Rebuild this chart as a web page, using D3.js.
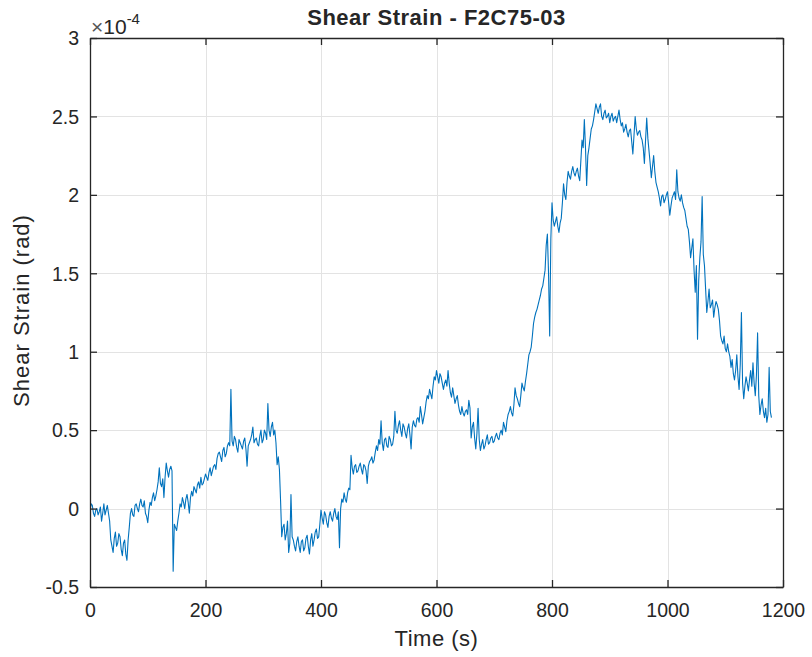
<!DOCTYPE html>
<html>
<head>
<meta charset="utf-8">
<script src="https://cdn.jsdelivr.net/npm/d3@7"></script>
<style>
  html, body { margin: 0; padding: 0; background: #fff; }
  svg { display: block; }
  text { font-family: "Liberation Sans", Arial, Helvetica, sans-serif; fill: #262626; }
</style>
</head>
<body>
<svg id="chart" width="812" height="657"></svg>
<script>
// ---- data (strain in units of 1e-4 rad) ----
const titleText = "Shear Strain - F2C75-03";
const xLabelText = "Time (s)";
const yLabelText = "Shear Strain (rad)";
const sampleStep = 4; // seconds between main samples (t = 0, 4, 8, ...)
// readings at t = 0, 4, 8, ... s
const strainE4 = [
  -0.01, 0.02, -0.05, 0.0, -0.02, -0.08, 0.03, -0.01, -0.03, -0.2,
  -0.28, -0.15, -0.22, -0.18, -0.3, -0.2, -0.33, -0.12, 0.0, -0.05,
  0.03, -0.02, 0.06, 0.01, -0.03, -0.09, 0.04, 0.07, 0.05, 0.12,
  0.26, 0.14, 0.07, 0.29, 0.2, 0.27, -0.40, -0.12, -0.08, 0.03,
  0.07, 0.0, 0.09, -0.03, 0.11, 0.14, 0.1, 0.17, 0.2, 0.16,
  0.22, 0.18, 0.26, 0.24, 0.28, 0.32, 0.36, 0.3, 0.39, 0.35,
  0.42, 0.76, 0.4, 0.44, 0.36, 0.42, 0.38, 0.45, 0.27, 0.42,
  0.47, 0.42, 0.45, 0.4, 0.5, 0.44, 0.48, 0.67, 0.46, 0.55,
  0.5, 0.28, 0.25, -0.18, -0.1, -0.16, -0.28, 0.09, -0.2, -0.27,
  -0.18, -0.28, -0.2, -0.25, -0.17, -0.29, -0.16, -0.2, -0.13, -0.18,
  -0.01, -0.1, -0.04, -0.12, -0.02, -0.08, 0.0, -0.07, -0.25, 0.06,
  0.1, 0.04, 0.13, 0.34, 0.22, 0.28, 0.24, 0.29, 0.22, 0.27,
  0.16, 0.3, 0.33, 0.31, 0.4, 0.44, 0.56, 0.37, 0.45, 0.39,
  0.44, 0.41, 0.62, 0.48, 0.56, 0.46, 0.52, 0.45, 0.54, 0.38,
  0.56, 0.52, 0.58, 0.65, 0.54, 0.62, 0.72, 0.76, 0.7, 0.84,
  0.88, 0.8, 0.84, 0.76, 0.82, 0.88, 0.74, 0.77, 0.67, 0.72,
  0.62, 0.65, 0.59, 0.63, 0.69, 0.45, 0.55, 0.38, 0.64, 0.37,
  0.44, 0.4, 0.47, 0.42, 0.46, 0.43, 0.48, 0.44, 0.5, 0.55,
  0.49, 0.6, 0.65, 0.59, 0.77, 0.7, 0.65, 0.8, 0.75, 0.86,
  0.98, 1.03, 1.18, 1.25, 1.3, 1.36, 1.42, 1.52, 1.75, 1.1,
  1.95, 1.8, 1.86, 1.76, 1.85, 2.07, 1.97, 2.15, 2.1, 2.18,
  2.12, 2.17, 2.09, 2.35, 2.48, 2.06, 2.3, 2.42, 2.48, 2.58,
  2.52, 2.58, 2.48, 2.54, 2.5, 2.46, 2.52, 2.49, 2.46, 2.54,
  2.44, 2.4, 2.45, 2.37, 2.42, 2.26, 2.5, 2.38, 2.41, 2.35,
  2.2, 2.49, 2.28, 2.11, 2.25, 2.08, 2.02, 1.93, 2.0, 1.97,
  2.02, 1.87, 1.98, 2.02, 2.16, 1.98, 2.0, 1.92, 1.85, 1.78,
  1.6, 1.72, 1.38, 1.08, 1.6, 1.99, 1.55, 1.25, 1.4, 1.3,
  1.22, 1.32, 1.27, 1.1, 1.05, 1.02, 1.05, 0.97, 0.95, 0.82,
  0.98, 0.76, 1.25, 0.7, 0.84, 0.75, 0.88, 0.93, 0.72, 1.12,
  0.6, 0.7, 0.58, 0.55, 0.9, 0.58
];
// readings at t = 2, 6, 10, ... s (between the main samples)
const strainMidE4 = [
  0.03, -0.03, -0.01, -0.04, 0.01, -0.03, -0.04, 0.02, -0.08, -0.24,
  -0.19, -0.24, -0.16, -0.26, -0.22, -0.29, -0.2, -0.03, -0.04, 0.02,
  0.0, 0.03, 0.02, 0.05, -0.05, -0.01, 0.02, 0.1, 0.08, 0.17,
  0.16, 0.19, 0.2, 0.24, 0.25, 0.24, -0.1, -0.14, -0.03, 0.01,
  0.04, 0.06, 0.04, 0.07, 0.08, 0.12, 0.15, 0.13, 0.15, 0.19,
  0.2, 0.23, 0.21, 0.27, 0.25, 0.35, 0.33, 0.37, 0.33, 0.4,
  0.4, 0.43, 0.46, 0.39, 0.44, 0.4, 0.43, 0.38, 0.4, 0.44,
  0.52, 0.44, 0.41, 0.46, 0.42, 0.5, 0.44, 0.5, 0.52, 0.47,
  0.42, 0.33, 0.05, -0.12, -0.2, -0.08, -0.22, -0.18, -0.24, -0.21,
  -0.24, -0.21, -0.27, -0.19, -0.24, -0.2, -0.24, -0.15, -0.19, -0.1,
  -0.06, -0.02, -0.09, -0.05, -0.06, -0.03, -0.05, -0.02, 0.0, 0.04,
  0.06, 0.1, 0.12, 0.26, 0.27, 0.23, 0.27, 0.25, 0.28, 0.24,
  0.27, 0.31, 0.29, 0.36, 0.37, 0.41, 0.42, 0.44, 0.4, 0.46,
  0.4, 0.46, 0.5, 0.53, 0.5, 0.54, 0.48, 0.51, 0.47, 0.52,
  0.53, 0.57, 0.55, 0.6, 0.58, 0.68, 0.7, 0.73, 0.78, 0.82,
  0.84, 0.86, 0.8, 0.8, 0.78, 0.8, 0.71, 0.72, 0.7, 0.66,
  0.6, 0.61, 0.62, 0.6, 0.64, 0.52, 0.45, 0.48, 0.44, 0.41,
  0.38, 0.44, 0.41, 0.45, 0.42, 0.46, 0.45, 0.48, 0.47, 0.52,
  0.56, 0.62, 0.61, 0.66, 0.72, 0.67, 0.72, 0.77, 0.81, 0.92,
  1.0, 1.1, 1.22, 1.27, 1.33, 1.4, 1.47, 1.68, 1.5, 1.72,
  1.84, 1.83, 1.8, 1.82, 1.95, 2.0, 2.08, 2.12, 2.15, 2.14,
  2.15, 2.12, 2.22, 2.3, 2.3, 2.25, 2.36, 2.44, 2.53, 2.55,
  2.56, 2.5, 2.52, 2.49, 2.52, 2.5, 2.47, 2.5, 2.5, 2.48,
  2.46, 2.42, 2.4, 2.41, 2.34, 2.38, 2.42, 2.4, 2.37, 2.3,
  2.35, 2.36, 2.2, 2.18, 2.15, 2.05, 1.98, 1.99, 1.95, 2.0,
  1.95, 1.93, 2.0, 1.97, 2.02, 1.96, 1.95, 1.9, 1.8, 1.7,
  1.66, 1.52, 1.55, 1.45, 1.7, 1.62, 1.4, 1.32, 1.28, 1.33,
  1.28, 1.3, 1.2, 1.07, 1.1, 1.0, 1.0, 0.9, 0.86, 0.88,
  0.84, 0.92, 0.8, 0.78, 0.8, 0.82, 0.78, 0.8, 0.85, 0.72,
  0.66, 0.62, 0.64, 0.6, 0.62
];
const xTicks = [0, 200, 400, 600, 800, 1000, 1200];
const yTicks = [-0.5, 0, 0.5, 1, 1.5, 2, 2.5, 3];
const yTickLabels = ["-0.5", "0", "0.5", "1", "1.5", "2", "2.5", "3"];

// ---- layout ----
const plot = { left: 90, right: 783, top: 38, bottom: 587 };
const lineColor = "#0072BD";
const axisColor = "#262626";
const gridColor = "#e3e3e3";

const svg = d3.select("#chart");
const x = d3.scaleLinear().domain([0, 1200]).range([plot.left, plot.right]);
const y = d3.scaleLinear().domain([-0.5, 3]).range([plot.bottom, plot.top]);

// interleave main and in-between readings into one time series
const data = [];
strainE4.forEach((v, i) => {
  data.push({ t: i * sampleStep, v });
  if (i < strainMidE4.length) data.push({ t: i * sampleStep + sampleStep / 2, v: strainMidE4[i] });
});

// grid
const grid = svg.append("g");
grid.selectAll(".gx").data(xTicks.slice(1, -1)).join("line")
  .attr("x1", d => Math.round(x(d)) + 0.5).attr("x2", d => Math.round(x(d)) + 0.5)
  .attr("y1", plot.top).attr("y2", plot.bottom)
  .attr("stroke", gridColor).attr("stroke-width", 1);
grid.selectAll(".gy").data(yTicks.slice(1, -1)).join("line")
  .attr("y1", d => Math.round(y(d)) + 0.5).attr("y2", d => Math.round(y(d)) + 0.5)
  .attr("x1", plot.left).attr("x2", plot.right)
  .attr("stroke", gridColor).attr("stroke-width", 1);

// line
svg.append("clipPath").attr("id", "clip").append("rect")
  .attr("x", plot.left).attr("y", plot.top)
  .attr("width", plot.right - plot.left).attr("height", plot.bottom - plot.top);
svg.append("path").datum(data)
  .attr("clip-path", "url(#clip)")
  .attr("fill", "none").attr("stroke", lineColor).attr("stroke-width", 1.1)
  .attr("stroke-linejoin", "round")
  .attr("d", d3.line().x(d => x(d.t)).y(d => y(d.v)));

// axes (MATLAB style box with inward ticks)
const tickLen = 7;
const fontTick = "19.5px";
const axB = svg.append("g").attr("transform", `translate(0,${plot.bottom})`)
  .call(d3.axisBottom(x).tickValues(xTicks).tickSizeInner(-tickLen).tickSizeOuter(0)
    .tickFormat(d => String(d)));
const axT = svg.append("g").attr("transform", `translate(0,${plot.top})`)
  .call(d3.axisTop(x).tickValues(xTicks).tickSizeInner(-tickLen).tickSizeOuter(0).tickFormat(""));
const axL = svg.append("g").attr("transform", `translate(${plot.left},0)`)
  .call(d3.axisLeft(y).tickValues(yTicks).tickSizeInner(-tickLen).tickSizeOuter(0)
    .tickFormat((d, i) => yTickLabels[i]));
const axR = svg.append("g").attr("transform", `translate(${plot.right},0)`)
  .call(d3.axisRight(y).tickValues(yTicks).tickSizeInner(-tickLen).tickSizeOuter(0).tickFormat(""));

[axB, axT, axL, axR].forEach(a => {
  a.select(".domain").attr("stroke", axisColor).attr("stroke-width", 1.3);
  a.selectAll(".tick line").attr("stroke", axisColor).attr("stroke-width", 1.3);
  a.selectAll(".tick text").attr("fill", axisColor)
    .style("font-family", "'Liberation Sans', Arial, sans-serif").style("font-size", fontTick);
});
axB.selectAll(".tick text").attr("dy", "0.71em").attr("y", 16);
axL.selectAll(".tick text").attr("x", -11).attr("dy", "0.35em");

// exponent label
const expo = svg.append("text").attr("x", 91).attr("y", 34).style("font-size", "21px");
expo.append("tspan").style("fill", "#555").text("×");
expo.append("tspan").text("10");
expo.append("tspan").attr("dy", -10).style("font-size", "15px").text("-4");

// title and labels
svg.append("text").attr("x", (plot.left + plot.right) / 2).attr("y", 25)
  .attr("text-anchor", "middle").style("font-weight", "bold").style("font-size", "22px")
  .style("letter-spacing", "0.5px").text(titleText);
svg.append("text").attr("x", (plot.left + plot.right) / 2).attr("y", 646)
  .attr("text-anchor", "middle").style("font-size", "22px")
  .style("letter-spacing", "0.5px").text(xLabelText);
svg.append("text").attr("transform", `translate(29,${(plot.top + plot.bottom) / 2 - 2}) rotate(-90)`)
  .attr("text-anchor", "middle").style("font-size", "22px")
  .style("letter-spacing", "1px").text(yLabelText);
</script>
</body>
</html>
